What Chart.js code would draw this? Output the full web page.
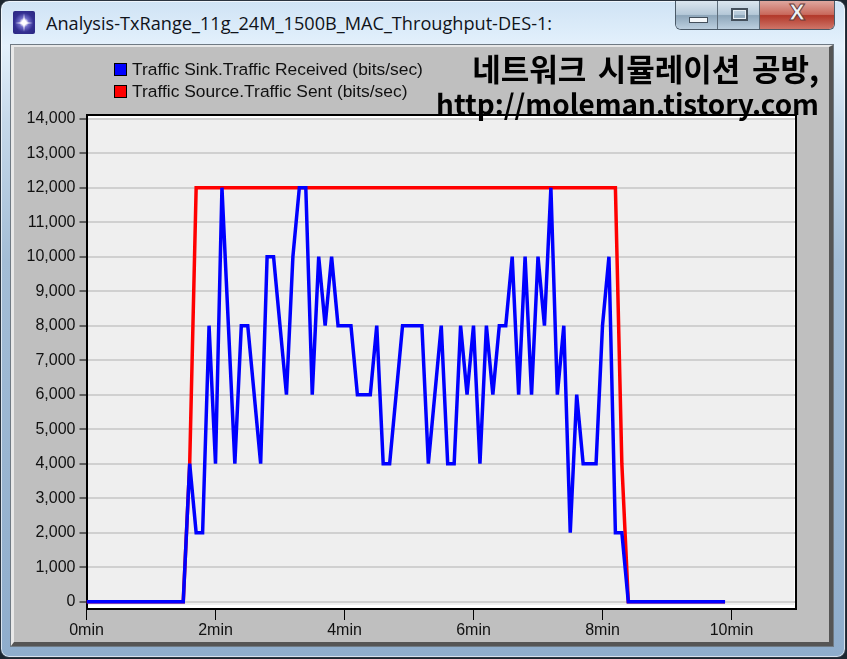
<!DOCTYPE html>
<html>
<head>
<meta charset="utf-8">
<title>Analysis-TxRange_11g_24M_1500B_MAC_Throughput-DES-1</title>
<script src="https://cdn.jsdelivr.net/npm/chart.js@4"></script>
<style>
html, body { margin: 0; padding: 0; background: #fff; }
#page { position: relative; width: 847px; height: 659px; overflow: hidden; background: #1c2630; }
#frame {
  position: absolute; left: 0; top: 0; width: 846px; height: 658px; box-sizing: border-box;
  border: 1px solid #2a3440; border-radius: 9px;
  background: linear-gradient(to bottom, #cfe3f5 0, #e4f1fc 45px, #c6d9ea 120px, #a3bdd6 260px, #8fadcc 100%);
  box-shadow: inset 0 0 0 1px rgba(255,255,255,.65);
}
#panel {
  position: absolute; left: 11px; top: 45px; width: 822px; height: 601px; box-sizing: border-box;
  background: #bfbfbf;
  border-top: 2px solid #e8e8e8; border-left: 3px solid #e8e8e8;
  border-right: 4px solid #555; border-bottom: 4px solid #555;
  outline: 1px solid #6f7a84;
}
#icon {
  position: absolute; left: 13px; top: 11px; width: 22px; height: 23px; border-radius: 2px;
  background:
    linear-gradient(to right, transparent 10%, #fff 50%, transparent 90%) center / 100% 2px no-repeat,
    linear-gradient(to bottom, transparent 10%, #fff 50%, transparent 90%) center / 2px 100% no-repeat,
    radial-gradient(circle at 50% 50%, #fff 0, #fff 14%, #6f6cc8 30%, #332f91 60%, #2a2680 100%);
}
#title {
  position: absolute; left: 46px; top: 11px; color: #10131a; white-space: nowrap;
  font: 18px "Open Sans", sans-serif; transform-origin: left top; transform: scaleX(1.008);
}
#buttons {
  position: absolute; left: 675px; top: 1px; width: 160px; height: 29px; display: flex; box-sizing: border-box;
  border: 1px solid #4b5a68; border-top: 0; border-radius: 0 0 6px 6px; overflow: hidden;
}
.btn { position: relative; height: 100%; border-right: 1px solid #5d6c7a; box-sizing: border-box;
  background: linear-gradient(to bottom, #dbe6ef 0, #b5c8d8 48%, #8ea6ba 52%, #bccfdf 100%); }
#bmin { width: 43px; } #bmax { width: 42px; }
#bclose { width: 75px; border-right: 0; background: linear-gradient(to bottom, #dfa79f 0, #c9695c 48%, #b2382a 52%, #cf7568 100%); }
#bmin i { position: absolute; left: 13px; top: 16px; width: 19px; height: 6px; background: #f4f7fa; border: 1px solid #44505c; box-sizing: border-box; }
#bmax i { position: absolute; left: 13px; top: 7px; width: 17px; height: 13px; background: transparent; border: 2px solid #44505c; outline: 1px solid #e6edf3; outline-offset: -3px; box-sizing: border-box; }
#bclose span { position: absolute; left: 0; width: 100%; top: 0; text-align: center; color: #eef2f5; font: bold 21px "DejaVu Sans", sans-serif; -webkit-text-stroke: 1px #6a3a38; }
#legend { position: absolute; left: 114px; top: 58px; font: 17.4px "Liberation Sans", sans-serif; color: #111; }
#legend div { display: flex; align-items: center; height: 22px; white-space: nowrap; }
#legend b { display: inline-block; width: 13px; height: 13px; box-sizing: border-box; border: 1px solid #000; margin-right: 5px; }
#chart { position: absolute; left: 0; top: 0; }
.note { position: absolute; right: 28px; font-family: "Noto Sans CJK KR", sans-serif; font-weight: 700; color: #000; white-space: nowrap; }
#note1 { top: 48px; font-size: 31px; line-height: 40px; word-spacing: 4.5px; }
#note2 { top: 83px; font-size: 27.9px; line-height: 40px; }
</style>
</head>
<body>
<div id="page">
  <div id="frame"></div>
  <div id="panel"></div>
  <div id="icon"></div>
  <div id="title">Analysis-TxRange_11g_24M_1500B_MAC_Throughput-DES-1:</div>
  <div id="buttons">
    <div class="btn" id="bmin"><i></i></div>
    <div class="btn" id="bmax"><i></i></div>
    <div class="btn" id="bclose"><span>X</span></div>
  </div>
  <canvas id="chart" width="847" height="659"></canvas>
  <div id="legend"></div>
  <div class="note" id="note1">네트워크 시뮬레이션 공방,</div>
  <div class="note" id="note2">http://moleman.tistory.com</div>
</div>
<script>
// time in minutes, one sample every 6 sec
const times = [
  0, 0.1, 0.2, 0.3, 0.4, 0.5, 0.6, 0.7, 0.8, 0.9,
  1, 1.1, 1.2, 1.3, 1.4, 1.5, 1.6, 1.7, 1.8, 1.9,
  2, 2.1, 2.2, 2.3, 2.4, 2.5, 2.6, 2.7, 2.8, 2.9,
  3, 3.1, 3.2, 3.3, 3.4, 3.5, 3.6, 3.7, 3.8, 3.9,
  4, 4.1, 4.2, 4.3, 4.4, 4.5, 4.6, 4.7, 4.8, 4.9,
  5, 5.1, 5.2, 5.3, 5.4, 5.5, 5.6, 5.7, 5.8, 5.9,
  6, 6.1, 6.2, 6.3, 6.4, 6.5, 6.6, 6.7, 6.8, 6.9,
  7, 7.1, 7.2, 7.3, 7.4, 7.5, 7.6, 7.7, 7.8, 7.9,
  8, 8.1, 8.2, 8.3, 8.4, 8.5, 8.6, 8.7, 8.8, 8.9,
  9, 9.1, 9.2, 9.3, 9.4, 9.5, 9.6, 9.7, 9.8, 9.9,
];
const received = [
  0, 0, 0, 0, 0, 0, 0, 0, 0, 0,
  0, 0, 0, 0, 0, 0, 4000, 2000, 2000, 8000,
  4000, 12000, 8000, 4000, 8000, 8000, 6000, 4000, 10000, 10000,
  8000, 6000, 10000, 12000, 12000, 6000, 10000, 8000, 10000, 8000,
  8000, 8000, 6000, 6000, 6000, 8000, 4000, 4000, 6000, 8000,
  8000, 8000, 8000, 4000, 6000, 8000, 4000, 4000, 8000, 6000,
  8000, 4000, 8000, 6000, 8000, 8000, 10000, 6000, 10000, 6000,
  10000, 8000, 12000, 6000, 8000, 2000, 6000, 4000, 4000, 4000,
  8000, 10000, 2000, 2000, 0, 0, 0, 0, 0, 0,
  0, 0, 0, 0, 0, 0, 0, 0, 0, 0,
];
const sent = [
  0, 0, 0, 0, 0, 0, 0, 0, 0, 0,
  0, 0, 0, 0, 0, 0, 4000, 12000, 12000, 12000,
  12000, 12000, 12000, 12000, 12000, 12000, 12000, 12000, 12000, 12000,
  12000, 12000, 12000, 12000, 12000, 12000, 12000, 12000, 12000, 12000,
  12000, 12000, 12000, 12000, 12000, 12000, 12000, 12000, 12000, 12000,
  12000, 12000, 12000, 12000, 12000, 12000, 12000, 12000, 12000, 12000,
  12000, 12000, 12000, 12000, 12000, 12000, 12000, 12000, 12000, 12000,
  12000, 12000, 12000, 12000, 12000, 12000, 12000, 12000, 12000, 12000,
  12000, 12000, 12000, 4000, 0, 0, 0, 0, 0, 0,
  0, 0, 0, 0, 0, 0, 0, 0, 0, 0,
];
const xTicks = [0, 2, 4, 6, 8, 10];
const yTicks = [0, 1000, 2000, 3000, 4000, 5000, 6000, 7000, 8000, 9000, 10000, 11000, 12000, 13000, 14000];

const toPoints = (values) => values.map((v, i) => ({ x: times[i], y: v }));

// grey plot area with the white inner edge, and the black frame
const plotBox = {
  id: "plotBox",
  beforeDraw(chart) {
    const { ctx, chartArea: a } = chart;
    ctx.save();
    ctx.fillStyle = "#ffffff";
    ctx.fillRect(a.left, a.top, a.right - a.left, a.bottom - a.top);
    ctx.fillStyle = "#efefef";
    ctx.fillRect(a.left + 1, a.top + 4, a.right - a.left - 3, a.bottom - a.top - 8);
    ctx.restore();
  },
  afterDatasetsDraw(chart) {
    const { ctx, chartArea: a } = chart;
    ctx.save();
    ctx.strokeStyle = "#000000";
    ctx.lineWidth = 2;
    ctx.beginPath();
    ctx.moveTo(a.left, a.top);
    ctx.lineTo(a.right, a.top);
    ctx.lineTo(a.right, a.bottom);
    ctx.stroke();
    ctx.restore();
  },
};

const chart = new Chart(document.getElementById("chart"), {
  type: "line",
  data: {
    datasets: [
      {
        label: "Traffic Source.Traffic Sent (bits/sec)",
        data: toPoints(sent),
        borderColor: "#ff0000",
        borderWidth: 3.5,
        pointRadius: 0,
        order: 2,
      },
      {
        label: "Traffic Sink.Traffic Received (bits/sec)",
        data: toPoints(received),
        borderColor: "#0000ff",
        borderWidth: 3.5,
        pointRadius: 0,
        order: 1,
      },
    ],
  },
  options: {
    responsive: false,
    animation: false,
    layout: { padding: { left: 0, top: 115, right: 51, bottom: 0 } },
    plugins: { legend: { display: false }, tooltip: { enabled: false } },
    scales: {
      x: {
        type: "linear",
        min: 0,
        max: 11,
        afterBuildTicks: (scale) => { scale.ticks = xTicks.map((v) => ({ value: v })); },
        afterFit: (scale) => { scale.height = 50; },
        grid: { drawOnChartArea: false, color: "#000000", tickLength: 11 },
        border: { color: "#000000", width: 2 },
        ticks: {
          color: "#111111",
          padding: 1,
          maxRotation: 0,
          font: { family: "Liberation Sans", size: 16 },
          callback: (v) => v + "min",
        },
      },
      y: {
        min: -212,
        max: 14107,
        afterBuildTicks: (scale) => { scale.ticks = yTicks.map((v) => ({ value: v })); },
        afterFit: (scale) => { scale.width = 86.5; },
        grid: { color: "#d0d0d0", lineWidth: 2, tickColor: "#000000", tickWidth: 1, tickLength: 7 },
        border: { color: "#000000", width: 2 },
        ticks: {
          color: "#111111",
          padding: 4,
          font: { family: "Liberation Sans", size: 16 },
          callback: (v) => v.toLocaleString("en-US"),
        },
      },
    },
  },
  plugins: [plotBox],
});

// legend sits above the plot in the grey panel
const legendEl = document.getElementById("legend");
[chart.data.datasets[1], chart.data.datasets[0]].forEach((ds) => {
  const row = document.createElement("div");
  row.innerHTML = `<b style="background:${ds.borderColor}"></b><span>${ds.label}</span>`;
  legendEl.appendChild(row);
});
</script>
</body>
</html>
